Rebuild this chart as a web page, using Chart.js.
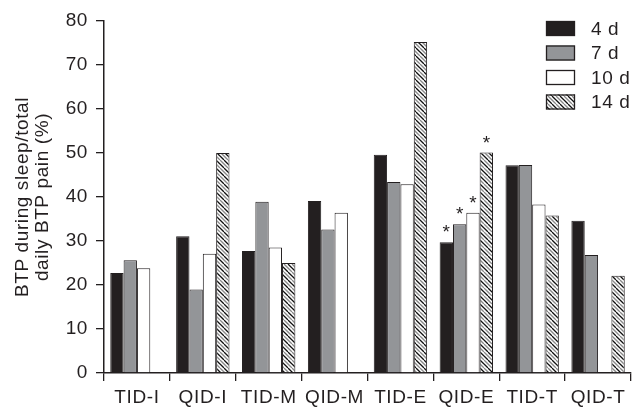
<!DOCTYPE html>
<html>
<head>
<meta charset="utf-8">
<script src="https://cdn.jsdelivr.net/npm/chart.js@4/dist/chart.umd.min.js"></script>
<style>
  html, body { margin: 0; padding: 0; background: #fff; }
  #c { display: block; }
</style>
</head>
<body>
<canvas id="c" width="633" height="408"></canvas>
<script>
// ---- data ----
const categories = ['TID-I', 'QID-I', 'TID-M', 'QID-M', 'TID-E', 'QID-E', 'TID-T', 'QID-T'];
const seriesNames = ['4 d', '7 d', '10 d', '14 d'];
const values4d  = [22.7, 31.1, 27.7, 39.1, 49.6, 29.7, 47.2, 34.6];
const values7d  = [25.6, 19.0, 38.9, 32.6, 43.4, 33.8, 47.3, 26.8];
const values10d = [23.8, 27.1, 28.5, 36.4, 42.9, 36.4, 38.3, null];
const values14d = [null, 50.0, 25.0, null, 75.2, 50.1, 35.8, 22.1];
const yTicks = [0, 10, 20, 30, 40, 50, 60, 70, 80];
const starCategory = 'QID-E';
const starSeries = [0, 1, 2, 3];
const yTitle = ['BTP during sleep/total', 'daily BTP pain (%)'];

// ---- styles ----
const INK = '#231f20';
const FONT = "'Liberation Sans', Arial, Helvetica, sans-serif";
const FS = 19;
const SPACING = '0.6px';
Chart.defaults.font.family = FONT;
Chart.defaults.font.size = FS;
Chart.defaults.color = INK;

function makeHatch() {
  const t = document.createElement('canvas');
  t.width = 8; t.height = 8;
  const g = t.getContext('2d');
  g.fillStyle = '#fff';
  g.fillRect(0, 0, 8, 8);
  g.lineWidth = 1.3;
  for (const k of [-8, 0, 8]) {
    g.strokeStyle = '#111';
    g.beginPath(); g.moveTo(k, 0); g.lineTo(k + 8, 8); g.stroke();
    g.strokeStyle = '#888';
    g.beginPath(); g.moveTo(k + 4, 0); g.lineTo(k + 12, 8); g.stroke();
  }
  return document.getElementById('c').getContext('2d').createPattern(t, 'repeat');
}
const hatch = makeHatch();
const fills = [INK, '#939598', '#ffffff', hatch];
const seriesValues = [values4d, values7d, values10d, values14d];

const spacingPlugin = {
  id: 'spacing',
  beforeUpdate(chart) { chart.ctx.letterSpacing = SPACING; },
  beforeLayout(chart) { chart.ctx.letterSpacing = SPACING; },
  beforeDraw(chart) { chart.ctx.letterSpacing = SPACING; }
};

const legendPlugin = {
  id: 'customLegend',
  afterDraw(chart) {
    const ctx = chart.ctx;
    ctx.save();
    chart.data.datasets.forEach((ds, i) => {
      const x = 546, y = 21 + i * 24.5, w = 29, h = 15;
      ctx.fillStyle = ds.backgroundColor;
      ctx.fillRect(x, y, w, h);
      ctx.strokeStyle = INK;
      ctx.lineWidth = 1.3;
      ctx.strokeRect(x + 0.5, y + 0.5, w - 1, h - 1);
      ctx.fillStyle = INK;
      ctx.font = FS + 'px ' + FONT;
      ctx.textBaseline = 'middle';
      ctx.textAlign = 'left';
      ctx.fillText(ds.label, 591, y + h / 2 + 1);
    });
    ctx.restore();
  }
};

const starPlugin = {
  id: 'stars',
  afterDatasetsDraw(chart) {
    const ctx = chart.ctx;
    const idx = categories.indexOf(starCategory);
    ctx.save();
    ctx.fillStyle = INK;
    ctx.font = FS + 'px ' + FONT;
    ctx.textAlign = 'center';
    ctx.textBaseline = 'alphabetic';
    ctx.letterSpacing = '0px';
    starSeries.forEach(si => {
      const el = chart.getDatasetMeta(si).data[idx];
      if (el) ctx.fillText('*', el.x, el.y - 4);
    });
    ctx.restore();
  }
};

new Chart(document.getElementById('c'), {
  type: 'bar',
  data: {
    labels: categories,
    datasets: seriesValues.map((vals, i) => ({
      label: seriesNames[i],
      data: vals,
      backgroundColor: fills[i],
      borderColor: INK,
      borderWidth: 1,
      borderSkipped: 'bottom',
      categoryPercentage: 0.81,
      barPercentage: 1.0
    }))
  },
  options: {
    responsive: false,
    animation: false,
    layout: { padding: { top: 21, right: 2, left: 0, bottom: 0 } },
    plugins: {
      legend: { display: false },
      tooltip: { enabled: false }
    },
    scales: {
      x: {
        grid: {
          display: true,
          offset: true,
          drawOnChartArea: false,
          drawTicks: true,
          tickLength: 8,
          color: INK,
          lineWidth: 1.3
        },
        border: { display: true, color: INK, width: 1.5 },
        ticks: { padding: 5, font: { size: FS }, color: INK, maxRotation: 0, autoSkip: false },
        afterFit(s) { s.height = 35; }
      },
      y: {
        min: 0,
        max: 80,
        afterBuildTicks(s) { s.ticks = yTicks.map(v => ({ value: v })); },
        grid: {
          display: true,
          drawOnChartArea: false,
          drawTicks: true,
          tickLength: 8,
          color: INK,
          lineWidth: 1.3
        },
        border: { display: true, color: INK, width: 1.5 },
        ticks: { padding: 8, font: { size: FS }, color: INK },
        title: {
          display: true,
          text: yTitle,
          font: { size: FS, lineHeight: 1.05 },
          color: INK,
          padding: { top: 13, bottom: 0 }
        },
        afterFit(s) { s.width = 104; }
      }
    }
  },
  plugins: [spacingPlugin, starPlugin, legendPlugin]
});
</script>
</body>
</html>
